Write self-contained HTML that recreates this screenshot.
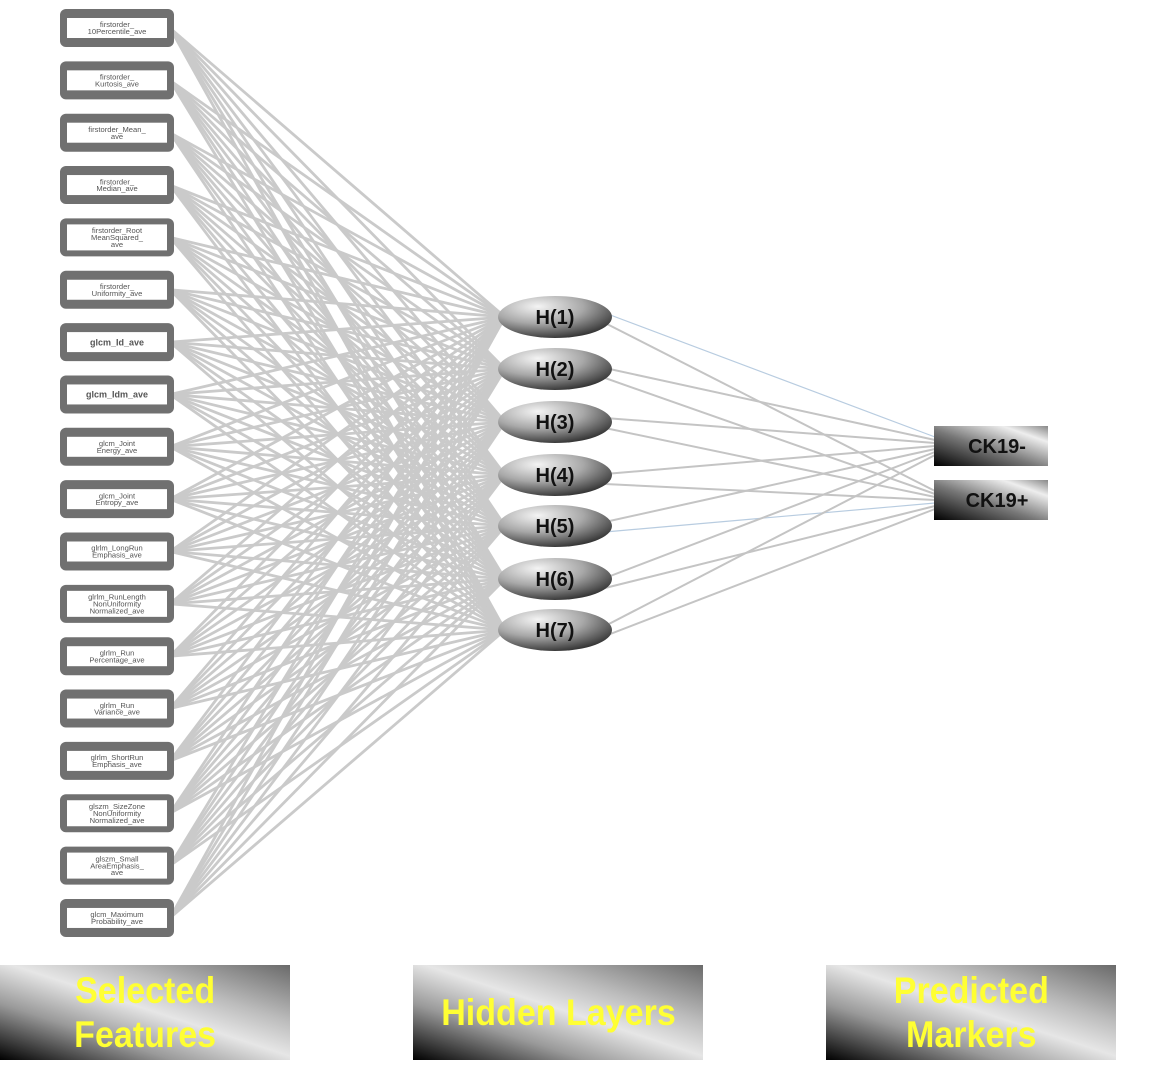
<!DOCTYPE html>
<html><head><meta charset="utf-8"><style>
body{margin:0;background:#fff;width:1165px;height:1080px;overflow:hidden;font-family:"Liberation Sans",sans-serif}
.lab{position:absolute;top:965px;width:290px;height:95px;background:linear-gradient(to top right,#000 0%,#9a9a9a 30%,#e6e6e6 52%,#bcbcbc 70%,#6a6a6a 100%);color:#ffff33;font-weight:bold;font-size:37px;display:flex;align-items:center;justify-content:center;text-align:center;line-height:44px}
.lab span{display:inline-block;transform:scaleX(0.92)}
</style></head><body>
<svg id="s" width="1165" height="1080" style="position:absolute;left:0;top:0">
<defs>
<radialGradient id="eg" cx="0.35" cy="0.25" r="0.8"><stop offset="0" stop-color="#f4f4f4"/><stop offset="0.5" stop-color="#a8a8a8"/><stop offset="1" stop-color="#303030"/></radialGradient>
<linearGradient id="og" x1="0" y1="1" x2="1" y2="0"><stop offset="0" stop-color="#000"/><stop offset="0.45" stop-color="#777"/><stop offset="0.8" stop-color="#eee"/><stop offset="1" stop-color="#888"/></linearGradient>
</defs>
<g id="lines"></g><g id="nodes"></g>
</svg>
<div class="lab" style="left:0"><span>Selected<br>Features</span></div>
<div class="lab" style="left:413px"><span>Hidden Layers</span></div>
<div class="lab" style="left:826px"><span>Predicted<br>Markers</span></div>
<script>
var labels=[["firstorder_","10Percentile_ave"],["firstorder_","Kurtosis_ave"],["firstorder_Mean_","ave"],["firstorder_","Median_ave"],["firstorder_Root","MeanSquared_","ave"],["firstorder_","Uniformity_ave"],["glcm_Id_ave"],["glcm_Idm_ave"],["glcm_Joint","Energy_ave"],["glcm_Joint","Entropy_ave"],["glrlm_LongRun","Emphasis_ave"],["glrlm_RunLength","NonUniformity","Normalized_ave"],["glrlm_Run","Percentage_ave"],["glrlm_Run","Variance_ave"],["glrlm_ShortRun","Emphasis_ave"],["glszm_SizeZone","NonUniformity","Normalized_ave"],["glszm_Small","AreaEmphasis_","ave"],["glcm_Maximum","Probability_ave"]];
var L=document.getElementById('lines'),N=document.getElementById('nodes'),ns='http://www.w3.org/2000/svg';
function el(p,t,a,txt){var e=document.createElementNS(ns,t);for(var k in a)e.setAttribute(k,a[k]);if(txt)e.textContent=txt;p.appendChild(e);return e;}
var hy=[317,369,422,475,526,579,630];
var ly=[];for(var i=0;i<18;i++)ly.push(28+i*52.35);
ly.forEach(function(y){hy.forEach(function(h){el(L,'line',{x1:170,y1:y,x2:505,y2:h,stroke:'#cacaca','stroke-width':2.8});});});
var out=[[446,'CK19-'],[500,'CK19+']];
hy.forEach(function(h,i){out.forEach(function(o,j){var c=(i==0&&j==0)||(i==4&&j==1)?'#b8cce0':'#c4c4c4';el(L,'line',{x1:605,y1:h+(j?6:-4)+ (i%2?3:0),x2:935,y2:o[0]+(i-3)*3,stroke:c,'stroke-width':(c=='#c4c4c4'?2:1.2)});});});
ly.forEach(function(y,i){var t=labels[i];
el(N,'rect',{x:60,y:y-19,width:114,height:38,rx:6,fill:'#707070'});
var h=t.length==3?26:20;el(N,'rect',{x:67,y:y-h/2,width:100,height:h,fill:'#fff'});
var fs=t.length==1?9:7.6;
t.forEach(function(s,k){el(N,'text',{x:117,y:y-(t.length-1)*fs*0.45+k*fs*0.9+fs*0.35,'font-size':fs,'text-anchor':'middle',fill:'#555','font-family':'Liberation Sans, sans-serif','font-weight':t.length==1?'bold':'normal'},s);});});
hy.forEach(function(h,i){el(N,'ellipse',{cx:555,cy:h,rx:57,ry:21,fill:'url(#eg)'});
el(N,'text',{x:555,y:h+7,'font-size':20,'font-weight':'bold','text-anchor':'middle',fill:'#111','font-family':'Liberation Sans, sans-serif'},'H('+(i+1)+')');});
out.forEach(function(o){el(N,'rect',{x:934,y:o[0]-20,width:114,height:40,fill:'url(#og)'});
el(N,'text',{x:997,y:o[0]+7,'font-size':20,'font-weight':'bold','text-anchor':'middle',fill:'#111','font-family':'Liberation Sans, sans-serif'},o[1]);});
</script>
</body></html>
